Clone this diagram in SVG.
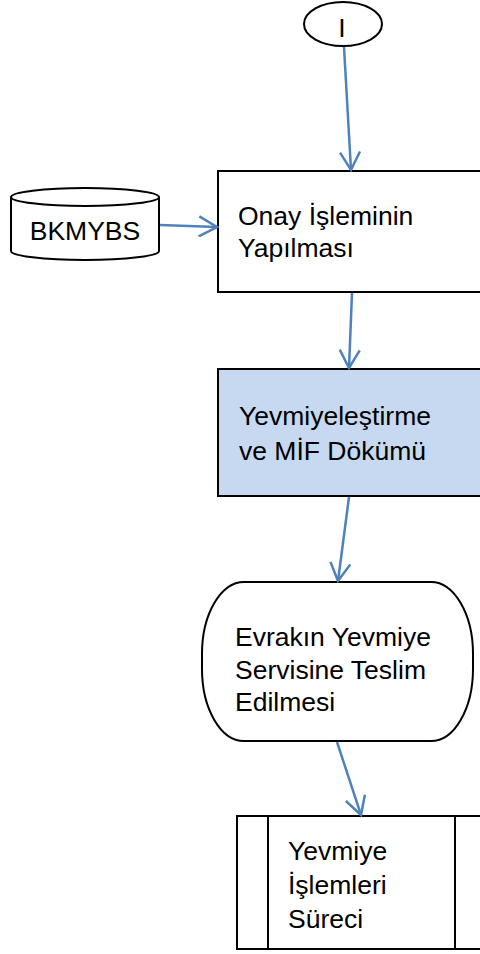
<svg xmlns="http://www.w3.org/2000/svg" width="480" height="954" viewBox="0 0 480 954">
<style>
.s{fill:#fff;stroke:#000;stroke-width:2}
.b{fill:#C6D9F1;stroke:#000;stroke-width:2}
.t{font-family:"Liberation Sans",Arial,sans-serif;font-size:26.5px;fill:#000}
.c{fill:none;stroke:#4F81BD;stroke-width:2.5;marker-end:url(#ah)}
</style>
<defs>
<marker id="ah" markerUnits="userSpaceOnUse" viewBox="0 0 22 22" markerWidth="22" markerHeight="22" refX="20" refY="11" orient="auto">
<path d="M2,1 L20,11 L2,21" fill="none" stroke="#4F81BD" stroke-width="2.5"/>
</marker>
</defs>
<rect width="480" height="954" fill="#fff"/>
<g id="start">
<ellipse class="s" cx="343" cy="24" rx="39" ry="22"/>
<text class="t" x="342" y="37" text-anchor="middle">I</text>
</g>
<g id="bkmybs">
<path class="s" d="M11,197 A74,9 0 0 1 159,197 L159,251 A74,9 0 0 1 11,251 Z"/>
<path d="M11,197 A74,9 0 0 0 159,197" fill="none" stroke="#000" stroke-width="2"/>
<text class="t" x="85" y="240" text-anchor="middle">BKMYBS</text>
</g>
<g id="onay">
<rect class="s" x="218" y="171" width="270" height="121"/>
<text class="t" x="238" y="225">Onay İşleminin</text>
<text class="t" x="238" y="257">Yapılması</text>
</g>
<g id="yevmiyelestirme">
<rect class="b" x="218" y="369" width="270" height="127"/>
<text class="t" x="239" y="425">Yevmiyeleştirme</text>
<text class="t" x="239" y="460">ve MİF Dökümü</text>
</g>
<g id="evrak">
<rect class="s" x="202" y="582" width="271" height="159" rx="42" ry="72"/>
<text class="t" x="235" y="646">Evrakın Yevmiye</text>
<text class="t" x="235" y="679">Servisine Teslim</text>
<text class="t" x="235" y="711">Edilmesi</text>
</g>
<g id="surec">
<rect class="s" x="237" y="816" width="260" height="133"/>
<line x1="268" y1="816" x2="268" y2="949" stroke="#000" stroke-width="2"/>
<line x1="455" y1="816" x2="455" y2="949" stroke="#000" stroke-width="2"/>
<text class="t" x="288" y="860">Yevmiye</text>
<text class="t" x="288" y="894">İşlemleri</text>
<text class="t" x="288" y="928">Süreci</text>
</g>
<g id="connectors">
<line class="c" x1="344" y1="47" x2="351" y2="170"/>
<line class="c" x1="160" y1="225" x2="217" y2="227"/>
<line class="c" x1="352" y1="293" x2="349" y2="368"/>
<line class="c" x1="349" y1="497" x2="338" y2="581"/>
<line class="c" x1="337" y1="742" x2="361" y2="815"/>
</g>
</svg>
